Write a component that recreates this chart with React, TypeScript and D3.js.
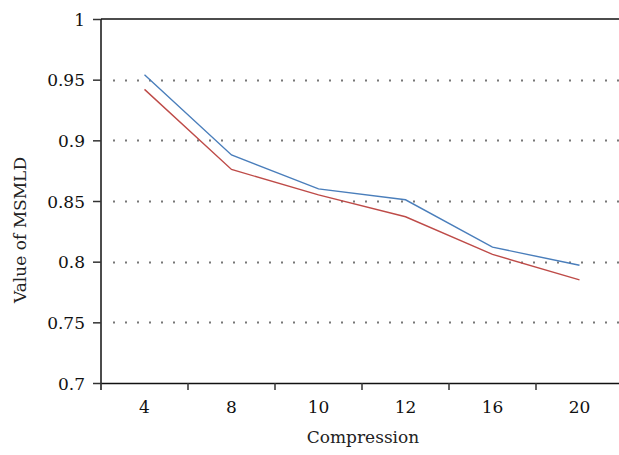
import React, { useEffect, useRef } from "react";
import * as d3 from "d3";

const categories = ["4", "8", "10", "12", "16", "20"];
const seriesBlue = [0.954, 0.888, 0.86, 0.851, 0.812, 0.797];
const seriesRed = [0.942, 0.876, 0.855, 0.837, 0.806, 0.785];
const yTicks = [0.7, 0.75, 0.8, 0.85, 0.9, 0.95, 1];
const gridTicks = [0.75, 0.8, 0.85, 0.9, 0.95];

const FONT = "DejaVu Serif";

export default function App() {
  const ref = useRef<SVGSVGElement>(null);

  useEffect(() => {
    const svgWidth = 619,
      svgHeight = 455;
    const margin = { top: 19, right: -4, bottom: 72, left: 101 };
    const width = svgWidth - margin.left - margin.right;
    const height = svgHeight - margin.top - margin.bottom;

    const svg = d3.select(ref.current).attr("width", svgWidth).attr("height", svgHeight);
    svg.selectAll("*").remove();
    svg.append("rect").attr("width", svgWidth).attr("height", svgHeight).attr("fill", "#fff");

    const g = svg.append("g").attr("transform", `translate(${margin.left},${margin.top})`);

    const xScale = d3.scaleBand<string>().domain(categories).range([0, width]);
    const yScale = d3.scaleLinear().domain([0.7, 1]).range([height, 0]);

    // dotted grid
    g.append("g")
      .selectAll("line")
      .data(gridTicks)
      .enter()
      .append("line")
      .attr("x1", 12)
      .attr("x2", width)
      .attr("y1", d => Math.round(yScale(d)) + 0.5)
      .attr("y2", d => Math.round(yScale(d)) + 0.5)
      .attr("stroke", "#777")
      .attr("stroke-width", 2)
      .attr("stroke-dasharray", "2,10");

    // top border
    g.append("line")
      .attr("x1", 0)
      .attr("x2", width)
      .attr("y1", 0)
      .attr("y2", 0)
      .attr("stroke", "#111")
      .attr("stroke-width", 1.5);

    // y axis
    const yAxis = g
      .append("g")
      .call(
        d3
          .axisLeft(yScale)
          .tickValues(yTicks)
          .tickSize(8)
          .tickPadding(8)
          .tickFormat(d => String(+d))
      );
    yAxis.attr("font-family", null).attr("font-size", null);
    yAxis.select(".domain").attr("stroke", "#111").attr("stroke-width", 1.5).attr("d", `M0,0V${height + 7}`);
    yAxis.selectAll(".tick line").attr("stroke", "#333").attr("stroke-width", 1.5);
    yAxis
      .selectAll(".tick text")
      .style("font-family", FONT)
      .style("font-size", "17px")
      .attr("fill", "#111")
      .attr("dy", "0.36em");

    // x axis
    const xAxis = g
      .append("g")
      .attr("transform", `translate(0,${height})`)
      .call(d3.axisBottom(xScale).tickSize(0).tickPadding(18));
    xAxis.attr("font-family", null).attr("font-size", null);
    xAxis.select(".domain").attr("stroke", "#111").attr("stroke-width", 1.5);
    xAxis
      .selectAll(".tick text")
      .style("font-family", FONT)
      .style("font-size", "17px")
      .attr("fill", "#111");

    // band boundary ticks
    g.append("g")
      .selectAll("line")
      .data(categories.slice(1))
      .enter()
      .append("line")
      .attr("x1", d => (xScale(d) as number))
      .attr("x2", d => (xScale(d) as number))
      .attr("y1", height)
      .attr("y2", height + 7)
      .attr("stroke", "#333")
      .attr("stroke-width", 1.5);

    const line = d3
      .line<number>()
      .x((d, i) => (xScale(categories[i]) as number) + xScale.bandwidth() / 2)
      .y(d => yScale(d));

    g.append("path")
      .datum(seriesBlue)
      .attr("fill", "none")
      .attr("stroke", "#4a7ebb")
      .attr("stroke-width", 1.4)
      .attr("d", line);

    g.append("path")
      .datum(seriesRed)
      .attr("fill", "none")
      .attr("stroke", "#be4b48")
      .attr("stroke-width", 1.4)
      .attr("d", line);

    // axis titles
    svg
      .append("text")
      .attr("x", 363)
      .attr("y", 443)
      .attr("text-anchor", "middle")
      .style("font-family", FONT)
      .style("font-size", "17px")
      .attr("fill", "#222")
      .text("Compression");

    svg
      .append("text")
      .attr("transform", "translate(26,230) rotate(-90)")
      .attr("text-anchor", "middle")
      .style("font-family", FONT)
      .style("font-size", "17px")
      .attr("fill", "#222")
      .text("Value of MSMLD");
  }, []);

  return (
    <div style={{ position: "absolute", left: 0, top: 0 }}>
      <svg ref={ref} style={{ display: "block" }} />
    </div>
  );
}
